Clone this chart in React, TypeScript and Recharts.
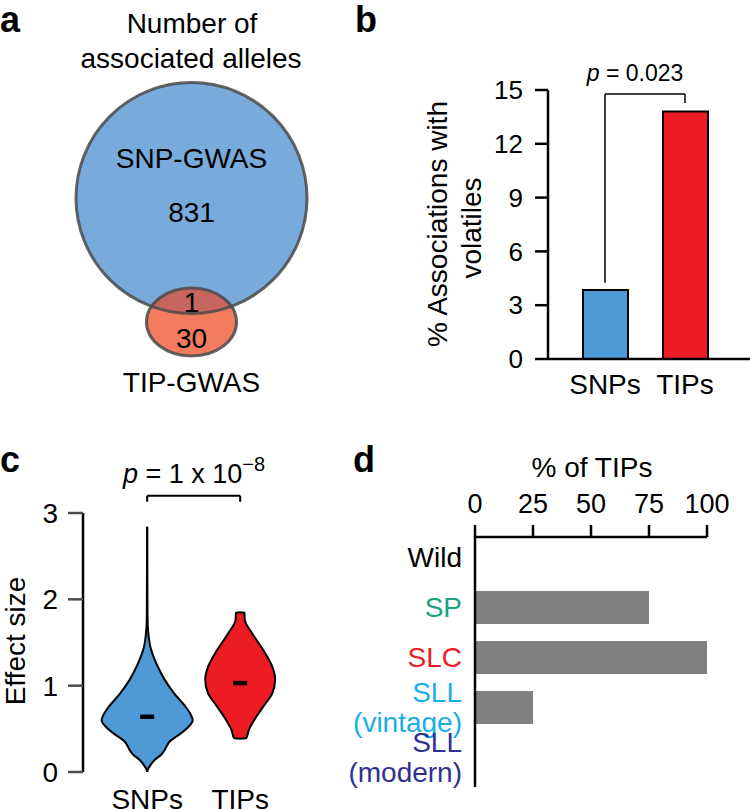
import React from "react";
import {
  BarChart,
  Bar,
  Cell,
  XAxis,
  YAxis,
  ReferenceLine,
  ComposedChart,
  Area,
  ScatterChart,
  Scatter,
} from "recharts";

const FONT = '"Liberation Sans", Arial, Helvetica, sans-serif';

// a: Venn of associated alleles (x, y, rx, ry in circle units)
const vennSets = [
  { name: "SNP-GWAS", count: 831, x: 0, y: 0, rx: 1, ry: 1 },
  { name: "TIP-GWAS", count: 30, x: 0, y: -1.074, rx: 0.39, ry: 0.294 },
];
const vennShared = 1;

// b: % associations with volatiles
const assocGroups = ["SNPs", "TIPs"];
const assocPct = [3.85, 13.8];
const assocTicks = [0, 3, 6, 9, 12, 15];

// c: effect size violins (y = effect size, w = half width)
const violinGroups = ["SNPs", "TIPs"];
const snpViolin = [
  { y: 0.0, w: 0 },
  { y: 0.04, w: 0.012 },
  { y: 0.08, w: 0.035 },
  { y: 0.14, w: 0.08 },
  { y: 0.2, w: 0.15 },
  { y: 0.25, w: 0.185 },
  { y: 0.29, w: 0.205 },
  { y: 0.35, w: 0.24 },
  { y: 0.45, w: 0.365 },
  { y: 0.53, w: 0.45 },
  { y: 0.6, w: 0.49 },
  { y: 0.65, w: 0.475 },
  { y: 0.76, w: 0.41 },
  { y: 0.91, w: 0.29 },
  { y: 1.07, w: 0.188 },
  { y: 1.26, w: 0.097 },
  { y: 1.45, w: 0.034 },
  { y: 1.64, w: 0.01 },
  { y: 1.8, w: 0.004 },
  { y: 2.84, w: 0 },
];
const tipViolin = [
  { y: 0.385, w: 0 },
  { y: 0.39, w: 0.065 },
  { y: 0.49, w: 0.094 },
  { y: 0.6, w: 0.15 },
  { y: 0.76, w: 0.25 },
  { y: 0.91, w: 0.345 },
  { y: 1.07, w: 0.376 },
  { y: 1.22, w: 0.345 },
  { y: 1.41, w: 0.25 },
  { y: 1.61, w: 0.126 },
  { y: 1.76, w: 0.05 },
  { y: 1.845, w: 0.045 },
  { y: 1.85, w: 0 },
];
const violinMedians = [0.64, 1.03];
const effectTicks = [0, 1, 2, 3];

// d: % of TIPs per population
const populations = ["Wild", "SP", "SLC", "SLL (vintage)", "SLL (modern)"];
const tipPct = [0, 75, 100, 25, 0];
const pctTicks = [0, 25, 50, 75, 100];

const popColors = ["#000000", "#17a37f", "#ed1c24", "#19aee6", "#2e3192"];
const BLUE = "#4e9ad6";
const RED = "#ed1c24";

// venn scale: pixels per circle unit
const VENN_PX = 115.5;
const VENN_CX = 191.5;
const VENN_CY = 198;

function VennFill(props: any) {
  const { cx, cy, payload } = props;
  const rx = payload.rx * VENN_PX;
  const ry = payload.ry * VENN_PX;
  if (payload.name === "TIP-GWAS") {
    return (
      <g>
        <clipPath id="tipClip">
          <ellipse cx={cx} cy={cy} rx={rx} ry={ry} />
        </clipPath>
        <ellipse cx={cx} cy={cy} rx={rx} ry={ry} fill="#f47c5e" />
      </g>
    );
  }
  return <ellipse cx={cx} cy={cy} rx={rx} ry={ry} fill="#79aadc" />;
}

function VennOverlap(props: any) {
  const { cx, cy, payload } = props;
  return (
    <ellipse
      cx={cx}
      cy={cy}
      rx={payload.rx * VENN_PX}
      ry={payload.ry * VENN_PX}
      fill="#c7665e"
      clipPath="url(#tipClip)"
    />
  );
}

function VennOutline(props: any) {
  const { cx, cy, payload } = props;
  const big = payload.name === "SNP-GWAS";
  return (
    <g>
      <ellipse
        cx={cx}
        cy={cy}
        rx={payload.rx * VENN_PX}
        ry={payload.ry * VENN_PX}
        fill="none"
        stroke="#4a4a4a"
        strokeOpacity={0.85}
        strokeWidth={3}
      />
      {big ? (
        <g fontSize={28} textAnchor="middle" fill="#000">
          <text x={cx} y={cy - 30}>{payload.name}</text>
          <text x={cx} y={cy + 24}>{payload.count}</text>
        </g>
      ) : (
        <g fontSize={28} textAnchor="middle" fill="#000">
          <text x={cx} y={cy - 10}>{vennShared}</text>
          <text x={cx} y={cy + 26}>{payload.count}</text>
          <text x={cx} y={cy + 70}>{payload.name}</text>
        </g>
      )}
    </g>
  );
}

function PopTick(props: any) {
  const { x, y, payload } = props;
  const i = populations.indexOf(payload.value);
  const lines = String(payload.value).split(" ");
  const lh = 30;
  const y0 = y - ((lines.length - 1) * lh) / 2;
  return (
    <text x={x} y={y0} textAnchor="end" fontSize={28} fill={popColors[i]}>
      {lines.map((l, k) => (
        <tspan key={k} x={x} y={y0 + k * lh} dy="0.36em">
          {l}
        </tspan>
      ))}
    </text>
  );
}

export default function App() {
  const assocData = assocGroups.map((g, i) => ({ group: g, pct: assocPct[i] }));
  const popData = populations.map((p, i) => ({ group: p, pct: tipPct[i] }));
  const snpArea = snpViolin.map((d) => ({ y: d.y, range: [1 - d.w, 1 + d.w] }));
  const tipArea = tipViolin.map((d) => ({ y: d.y, range: [2 - d.w, 2 + d.w] }));
  const axisStroke = { stroke: "#000", strokeWidth: 2.5 };

  return (
    <div
      style={{
        position: "absolute",
        left: 0,
        top: 0,
        width: 750,
        height: 810,
        background: "#fff",
        fontFamily: FONT,
        overflow: "hidden",
      }}
    >
      {/* a */}
      <div style={{ position: "absolute", left: 0, top: 0 }}>
        <ScatterChart width={375} height={400} margin={{ top: 0, right: 0, bottom: 0, left: 0 }}>
          <XAxis
            type="number"
            dataKey="x"
            hide
            domain={[-VENN_CX / VENN_PX, (375 - VENN_CX) / VENN_PX]}
            allowDataOverflow
          />
          <YAxis
            type="number"
            dataKey="y"
            hide
            domain={[-(400 - VENN_CY) / VENN_PX, VENN_CY / VENN_PX]}
            allowDataOverflow
          />
          <Scatter data={vennSets} shape={VennFill} isAnimationActive={false} />
          <Scatter data={vennSets.slice(0, 1)} shape={VennOverlap} isAnimationActive={false} />
          <Scatter data={vennSets} shape={VennOutline} isAnimationActive={false} />
        </ScatterChart>
      </div>

      {/* b */}
      <div style={{ position: "absolute", left: 375, top: 0 }}>
        <BarChart
          width={375}
          height={400}
          data={assocData}
          margin={{ top: 90, right: 0, bottom: 0, left: 0 }}
          barSize={45}
        >
          <XAxis
            dataKey="group"
            height={41}
            padding={{ left: 17, right: 25 }}
            tickLine={false}
            tickSize={0}
            tickMargin={15}
            axisLine={axisStroke}
            tick={{ fontSize: 28, fill: "#000" }}
          />
          <YAxis
            width={173}
            domain={[0, 15]}
            ticks={assocTicks}
            tickSize={13}
            tickMargin={12}
            axisLine={axisStroke}
            tickLine={axisStroke}
            tick={{ fontSize: 26, fill: "#000" }}
          />
          <Bar dataKey="pct" stroke="#000" strokeWidth={2} isAnimationActive={false}>
            {assocData.map((d, i) => (
              <Cell key={d.group} fill={i === 0 ? BLUE : RED} />
            ))}
          </Bar>
          <ReferenceLine
            segment={[{ x: "SNPs", y: 4.25 }, { x: "SNPs", y: 14.78 }]}
            stroke="#000"
            strokeWidth={1.5}
            ifOverflow="visible"
          />
          <ReferenceLine
            segment={[{ x: "SNPs", y: 14.78 }, { x: "TIPs", y: 14.78 }]}
            stroke="#000"
            strokeWidth={1.5}
            ifOverflow="visible"
          />
          <ReferenceLine
            segment={[{ x: "TIPs", y: 14.78 }, { x: "TIPs", y: 14.28 }]}
            stroke="#000"
            strokeWidth={1.5}
            ifOverflow="visible"
          />
        </BarChart>
      </div>

      {/* c */}
      <div style={{ position: "absolute", left: 0, top: 400 }}>
        <ComposedChart
          layout="vertical"
          width={375}
          height={410}
          margin={{ top: 113, right: 13, bottom: 0, left: 0 }}
        >
          <XAxis
            type="number"
            domain={[0.31, 3.31]}
            allowDataOverflow
            ticks={[1, 2]}
            tickFormatter={(v: number) => violinGroups[v - 1]}
            height={38}
            axisLine={false}
            tickLine={false}
            tickSize={0}
            tickMargin={17}
            tick={{ fontSize: 28, fill: "#000" }}
          />
          <YAxis
            type="number"
            dataKey="y"
            domain={[0, 3]}
            reversed
            allowDataOverflow
            ticks={effectTicks}
            width={83}
            tickSize={15}
            tickMargin={10}
            axisLine={axisStroke}
            tickLine={{ stroke: "#4d4d4d", strokeWidth: 2.5 }}
            tick={{ fontSize: 28, fill: "#000" }}
          />
          <Area
            data={snpArea}
            dataKey="range"
            type="monotoneY"
            fill={BLUE}
            fillOpacity={1}
            stroke="#000"
            strokeWidth={2}
            isAnimationActive={false}
          />
          <Area
            data={tipArea}
            dataKey="range"
            type="monotoneY"
            fill={RED}
            fillOpacity={1}
            stroke="#000"
            strokeWidth={2}
            isAnimationActive={false}
          />
          {violinMedians.map((m, i) => (
            <ReferenceLine
              key={i}
              segment={[
                { x: i + 1 - 0.075, y: m },
                { x: i + 1 + 0.075, y: m },
              ]}
              stroke="#000"
              strokeWidth={4.5}
              ifOverflow="visible"
            />
          ))}
          <ReferenceLine
            segment={[{ x: 1, y: 3.13 }, { x: 1, y: 3.2 }]}
            stroke="#000"
            strokeWidth={2}
            ifOverflow="visible"
          />
          <ReferenceLine
            segment={[{ x: 1, y: 3.2 }, { x: 2, y: 3.2 }]}
            stroke="#000"
            strokeWidth={2}
            ifOverflow="visible"
          />
          <ReferenceLine
            segment={[{ x: 2, y: 3.2 }, { x: 2, y: 3.13 }]}
            stroke="#000"
            strokeWidth={2}
            ifOverflow="visible"
          />
        </ComposedChart>
      </div>

      {/* d */}
      <div style={{ position: "absolute", left: 325, top: 400 }}>
        <BarChart
          layout="vertical"
          width={425}
          height={410}
          data={popData}
          margin={{ top: 0, right: 43, bottom: 23, left: 0 }}
          barSize={33}
        >
          <XAxis
            type="number"
            orientation="top"
            domain={[0, 100]}
            ticks={pctTicks}
            height={137}
            tickSize={12}
            tickMargin={12}
            axisLine={axisStroke}
            tickLine={axisStroke}
            tick={{ fontSize: 27, fill: "#000" }}
          />
          <YAxis
            type="category"
            dataKey="group"
            width={150}
            padding={{ top: -5, bottom: 5 }}
            tickLine={false}
            tickSize={0}
            tickMargin={13}
            axisLine={axisStroke}
            tick={<PopTick />}
          />
          <Bar dataKey="pct" fill="#808080" isAnimationActive={false} />
        </BarChart>
      </div>

      {/* titles and annotations */}
      <svg
        width={750}
        height={810}
        style={{ position: "absolute", left: 0, top: 0, pointerEvents: "none" }}
        fontFamily={FONT}
      >
        <g fontSize={36} fontWeight="bold" fill="#000">
          <text x={0} y={32}>a</text>
          <text x={355} y={32}>b</text>
          <text x={0} y={472}>c</text>
          <text x={353} y={472}>d</text>
        </g>
        <g fontSize={28} textAnchor="middle" fill="#000">
          <text x={192} y={33}>Number of</text>
          <text x={191} y={68}>associated alleles</text>
          <text transform="translate(447,224) rotate(-90)">% Associations with</text>
          <text transform="translate(481,228) rotate(-90)">volatiles</text>
          <text transform="translate(25,641) rotate(-90)">Effect size</text>
          <text x={592} y={477}>% of TIPs</text>
        </g>
        <text x={635} y={81} fontSize={23} textAnchor="middle">
          <tspan fontStyle="italic">p</tspan> = 0.023
        </text>
        <text x={194} y={483} fontSize={27} textAnchor="middle">
          <tspan fontStyle="italic">p</tspan> = 1 x 10
          <tspan fontSize={20} dy={-12}>−8</tspan>
        </text>
      </svg>
    </div>
  );
}
